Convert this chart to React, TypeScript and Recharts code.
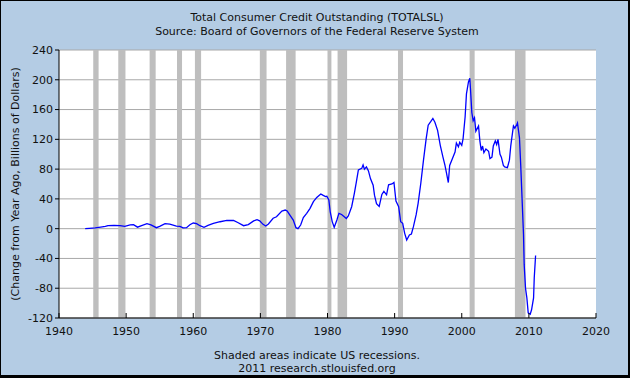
import { LineChart, Line, XAxis, YAxis, CartesianGrid, ReferenceArea } from 'recharts'

// decimal year of each reading
const dates = [
  1943.9, 1944.5, 1945.4, 1946.2, 1946.9, 1947.3, 1948.2, 1949.1, 1949.8, 1950.6,
  1951.1, 1951.7, 1952.3, 1953.1, 1953.7, 1954.5, 1955.0, 1955.8, 1956.5, 1957.5,
  1958.0, 1958.5, 1959.0, 1959.5, 1960.0, 1960.5, 1961.0, 1961.6, 1962.2, 1963.0,
  1964.0, 1965.0, 1966.0, 1966.7, 1967.5, 1968.2, 1969.0, 1969.5, 1969.9, 1970.4,
  1970.8, 1971.2, 1971.9, 1972.4, 1973.2, 1973.7, 1974.0, 1974.4, 1974.9, 1975.3,
  1975.6, 1976.0, 1976.4, 1976.9, 1977.4, 1977.9, 1978.4, 1979.0, 1979.3, 1979.7,
  1979.9, 1980.2, 1980.4, 1980.7, 1981.0, 1981.4, 1981.7, 1982.1, 1982.5, 1982.8,
  1983.1, 1983.6, 1984.0, 1984.3, 1984.6, 1985.1, 1985.3, 1985.5, 1985.8, 1986.1,
  1986.4, 1986.8, 1987.0, 1987.3, 1987.7, 1988.1, 1988.4, 1988.8, 1989.1, 1989.6,
  1989.9, 1990.2, 1990.6, 1990.9, 1991.2, 1991.5, 1991.8, 1992.2, 1992.5, 1992.8,
  1993.2, 1993.5, 1993.9, 1994.3, 1994.7, 1995.0, 1995.4, 1995.7, 1996.0, 1996.4,
  1996.8, 1997.2, 1997.5, 1997.7, 1998.0, 1998.2, 1998.6, 1999.0, 1999.2, 1999.5,
  1999.7, 2000.0, 2000.2, 2000.5, 2000.7, 2001.0, 2001.2, 2001.3, 2001.5, 2001.7,
  2001.9, 2002.1, 2002.5, 2002.7, 2002.9, 2003.1, 2003.3, 2003.6, 2004.0, 2004.2,
  2004.5, 2004.7, 2005.0, 2005.2, 2005.4, 2005.7, 2005.9, 2006.2, 2006.4, 2006.8,
  2007.1, 2007.3, 2007.4, 2007.7, 2007.9, 2008.2, 2008.3, 2008.6, 2008.8, 2009.0,
  2009.2, 2009.3, 2009.5, 2009.7, 2009.9, 2010.2, 2010.4, 2010.7, 2010.8, 2011.0,
]

// change from year ago, billions of dollars
const changes = [
  0, 0.5, 1, 2, 3, 4, 4.5, 4, 3, 5,
  5.3, 2, 4, 6.7, 5, 1.3, 3, 6.7, 6, 3.5,
  3, 1, 1.3, 5.3, 7.6, 6.7, 4, 1.8, 4.4, 7,
  9.3, 11, 11, 8, 4, 5.4, 10.5, 12, 10.5, 5.8,
  3.6, 6.3, 14, 16, 23.7, 25, 23.7, 18.3, 11.6, 1.3,
  0, 4.9, 15, 20.6, 27.3, 36.3, 42, 46.6, 45, 43,
  43.5, 38.5, 23, 9.5, 1.9, 11.6, 20.6, 19, 16, 13.7,
  17, 29.5, 47.5, 63, 78.8, 81, 85.5, 80, 83, 77.6,
  67.3, 58.4, 45, 33.7, 30, 46, 50, 45.5, 59, 60,
  62, 37, 29.6, 9.4, 7.2, -6.3, -15.2, -8.5, -7.2, 2.7,
  18.4, 34, 61, 92, 121, 139, 144, 148, 143, 132,
  112, 96, 85, 76, 62, 85, 94, 103, 115, 110,
  116, 112, 121, 150, 181, 197, 202, 188, 156, 145,
  149, 131, 138, 118, 105, 111, 102, 107, 104, 94,
  96, 111, 118, 113, 120, 100, 96, 85, 83, 82,
  92, 111, 118, 138, 135, 140, 142, 122, 82, 37,
  -8, -48, -80, -93, -113, -115, -109, -93, -66, -36,
]

// NBER recessions, start / end as decimal years
const recessionStart = [1945.1, 1948.83, 1953.5, 1957.58, 1960.25, 1969.92, 1973.83, 1980.0, 1981.5, 1990.5, 2001.17, 2007.92]
const recessionEnd = [1945.9, 1949.9, 1954.4, 1958.33, 1961.17, 1970.92, 1975.25, 1980.58, 1982.92, 1991.25, 2001.92, 2009.5]

const xTicks = [1940, 1950, 1960, 1970, 1980, 1990, 2000, 2010, 2020]
const yTicks = [-120, -80, -40, 0, 40, 80, 120, 160, 200, 240]

const data = dates.map((d, i) => ({ date: d, change: changes[i] }))

const font = 'DejaVu Sans, Verdana, sans-serif'
const tickStyle = { fontSize: 11, fill: '#111', fontFamily: font }

export default function App() {
  return (
    <div style={{
      position: 'absolute', left: 0, top: 0, width: 630, height: 378,
      background: '#B4CCE4', boxSizing: 'border-box',
      borderTop: '1px solid #000', borderLeft: '1px solid #000',
      borderRight: '2px solid #000', borderBottom: '3px solid #000',
      overflow: 'hidden',
    }}>
      <div style={{ position: 'absolute', left: -1, top: -1 }}>
        <LineChart width={630} height={378} data={data}
          margin={{ top: 50, right: 34, bottom: 30, left: 19 }}>
          <rect />
          <CartesianGrid vertical={false} stroke="#A8A8A8" fill="#FFFFFF" />
          <XAxis dataKey="date" type="number" domain={[1940, 2020]} ticks={xTicks}
            allowDataOverflow height={30} stroke="#000" tick={tickStyle}
            tickSize={-5} tickMargin={14} />
          <YAxis type="number" domain={[-120, 240]} ticks={yTicks} width={40}
            allowDataOverflow stroke="#000" tick={tickStyle} tickSize={4} tickMargin={2} />
          {recessionStart.map((s, i) => (
            <ReferenceArea key={i} x1={s} x2={recessionEnd[i]} fill="#BEBEBE"
              fillOpacity={1} stroke="none" />
          ))}
          <Line type="linear" dataKey="change" stroke="#0000FF" strokeWidth={1.3}
            dot={false} isAnimationActive={false} />
        </LineChart>
      </div>
      <svg width={630} height={378} style={{ position: 'absolute', left: -1, top: -1, pointerEvents: 'none' }}
        fontFamily={font} fontSize={11} fill="#111">
        <text x={317} y={21} textAnchor="middle">Total Consumer Credit Outstanding (TOTALSL)</text>
        <text x={317} y={35} textAnchor="middle">Source: Board of Governors of the Federal Reserve System</text>
        <text x={317} y={359} textAnchor="middle">Shaded areas indicate US recessions.</text>
        <text x={317} y={372} textAnchor="middle">2011 research.stlouisfed.org</text>
        <text transform="translate(19,184) rotate(-90)" textAnchor="middle">
          (Change from Year Ago, Billions of Dollars)
        </text>
      </svg>
    </div>
  )
}
